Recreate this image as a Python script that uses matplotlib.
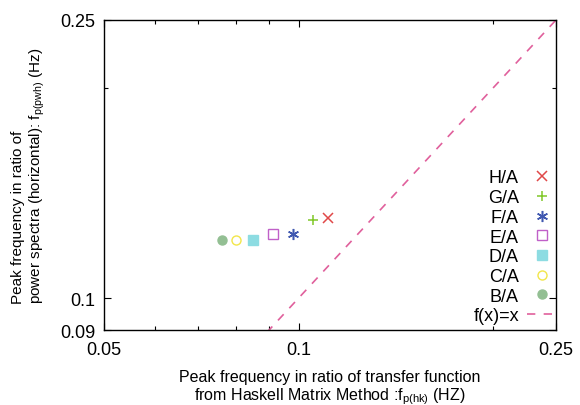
import numpy as np
import matplotlib
matplotlib.use("Agg")
import matplotlib.pyplot as plt
from matplotlib.ticker import FixedLocator, NullFormatter, FixedFormatter

plt.rcParams['font.family'] = ['Liberation Sans', 'DejaVu Sans']
plt.rcParams['mathtext.fontset'] = 'custom'
plt.rcParams['mathtext.rm'] = 'Liberation Sans'
plt.rcParams['mathtext.it'] = 'Liberation Sans'

# ratio peak frequencies
labels = ["B/A", "C/A", "D/A", "E/A", "F/A", "G/A", "H/A"]
fp_hk = [0.0760, 0.0800, 0.0851, 0.0912, 0.0981, 0.1051, 0.1111]
fp_pwh = [0.1211, 0.1211, 0.1212, 0.1234, 0.1234, 0.1295, 0.1303]

markers = ["o", "o", "s", "s", "*", "+", "x"]
colors = ["#93bf93", "#f2e64a", "#8ddce2", "#c060c8", "#4058b0", "#80c828", "#e04848"]
filled = [True, False, True, False, True, True, True]

xticks = [0.05, 0.1, 0.25]
yticks = [0.09, 0.1, 0.25]

fig = plt.figure(figsize=(5.8, 4.06), dpi=100)
ax = fig.add_axes([0.1793, 0.1847, 0.7793, 0.7636])

handles = []
for i in range(len(labels)):
    m = markers[i]
    kw = dict(linestyle="none", marker=m, color=colors[i], label=labels[i])
    if m == "*":
        kw.update(marker=(6, 2, 0), markersize=8, markeredgewidth=1.1)
    elif m in ("+", "x"):
        kw.update(markersize=7, markeredgewidth=1.1)
    else:
        kw.update(markersize=6.5, markeredgewidth=1.0)
        if not filled[i]:
            kw.update(markerfacecolor="white", markeredgecolor=colors[i])
    h, = ax.plot([fp_hk[i]], [fp_pwh[i]], **kw)
    handles.append(h)

xs = np.array([0.05, 0.25])
hl, = ax.plot(xs, xs, linestyle=(0, (5, 5)), color="#e0609c", linewidth=1.2, label="f(x)=x")

ax.set_xscale("log")
ax.set_yscale("log")
ax.set_xlim(0.05, 0.25)
ax.set_ylim(0.09, 0.25)

ax.xaxis.set_major_locator(FixedLocator(xticks))
ax.xaxis.set_major_formatter(FixedFormatter([str(v) for v in xticks]))
ax.xaxis.set_minor_locator(FixedLocator([0.06, 0.07, 0.08, 0.09, 0.2]))
ax.xaxis.set_minor_formatter(NullFormatter())
ax.yaxis.set_major_locator(FixedLocator(yticks))
ax.yaxis.set_major_formatter(FixedFormatter([str(v) for v in yticks]))
ax.yaxis.set_minor_locator(FixedLocator([0.2]))
ax.yaxis.set_minor_formatter(NullFormatter())

ax.tick_params(which="both", direction="in", top=True, right=True, labelsize=13)
ax.tick_params(axis="x", pad=8)
ax.tick_params(axis="y", pad=6)
ax.tick_params(which="major", length=5, width=0.8)
ax.tick_params(which="minor", length=3, width=0.8)
for s in ax.spines.values():
    s.set_linewidth(1.0)

ax.set_xlabel("Peak frequency in ratio of transfer function\nfrom Haskell Matrix Method :f$_{\\mathrm{p(hk)}}$ (HZ)",
              fontsize=11.5, labelpad=8, linespacing=1.1)
ax.set_ylabel("Peak frequency in ratio of\npower spectra (horizontal): f$_{\\mathrm{p(pwh)}}$ (Hz)",
              fontsize=11, labelpad=10, multialignment="left")

leg = ax.legend(handles[::-1] + [hl], labels[::-1] + ["f(x)=x"], loc="lower right",
                bbox_to_anchor=(1.0, 0.018),
                markerfirst=False, frameon=False, fontsize=13, handlelength=1.6,
                labelspacing=0.15, handletextpad=0.45, borderaxespad=0.0,
                borderpad=0.0)
for t in leg.get_texts():
    t.set_ha("right")

fig.savefig("out.png", dpi=100)
